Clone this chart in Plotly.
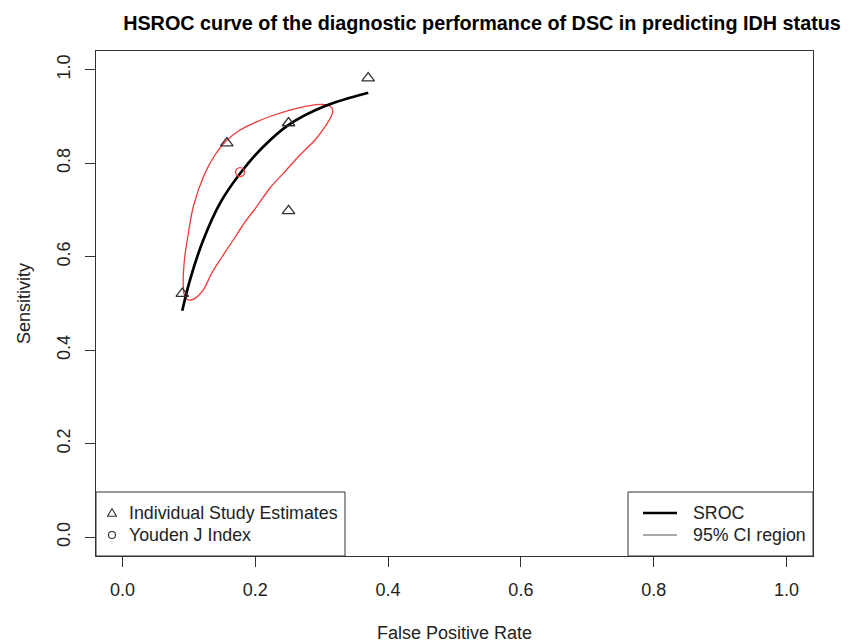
import plotly.graph_objects as go

# ---------------- data ----------------
study_fpr = [0.090, 0.157, 0.250, 0.250, 0.370]
study_sens = [0.521, 0.843, 0.886, 0.698, 0.982]

youden_fpr = [0.177]
youden_sens = [0.781]

sroc_fpr = [0.0899, 0.1015, 0.1216, 0.1467, 0.1779, 0.2119, 0.2496, 0.3023, 0.3701]
sroc_sens = [0.4846, 0.5502, 0.6358, 0.7143, 0.7797, 0.8353, 0.8817, 0.9209, 0.9508]

ci_fpr = [0.0990, 0.0932, 0.0914, 0.0917, 0.0940, 0.0975, 0.1065, 0.1241, 0.1392, 0.1573,
          0.1768, 0.1969, 0.2220, 0.2521, 0.2823, 0.3003, 0.3124, 0.3169, 0.3139, 0.3083,
          0.2898, 0.2672, 0.2421, 0.2220, 0.2020, 0.1844, 0.1667, 0.1497, 0.1342, 0.1216,
          0.1091, 0.0990]
ci_sens = [0.5075, 0.5182, 0.5396, 0.5652, 0.6037, 0.6358, 0.7070, 0.7784, 0.8176, 0.8497,
           0.8710, 0.8854, 0.8999, 0.9138, 0.9234, 0.9256, 0.9224, 0.9117, 0.8988, 0.8854,
           0.8497, 0.8176, 0.7784, 0.7470, 0.7070, 0.6743, 0.6358, 0.5994, 0.5646, 0.5289,
           0.5111, 0.5075]

tick_vals = [0.0, 0.2, 0.4, 0.6, 0.8, 1.0]
tick_text = ["0.0", "0.2", "0.4", "0.6", "0.8", "1.0"]

title_text = "HSROC curve of the diagnostic performance of DSC in predicting IDH status"
x_title = "False Positive Rate"
y_title = "Sensitivity"
legend_left = ["Individual Study Estimates", "Youden J Index"]
legend_right = ["SROC", "95% CI region"]

# ---------------- layout geometry (pixels) ----------------
W, H = 856, 643
L, R, T, B = 96, 43, 51, 87
PW, PH = W - L - R, H - T - B
FONT = "Liberation Sans, Arial, Helvetica, sans-serif"
INK = "#222222"


def pxx(x):
    return (x - L) / PW


def pxy(y):
    return (H - B - y) / PH


fig = go.Figure()

fig.add_trace(go.Scatter(
    x=ci_fpr, y=ci_sens, mode="lines",
    line=dict(color="#EE3A3A", width=1.3, shape="spline", smoothing=0.8),
    name=legend_right[1], showlegend=False, hoverinfo="skip"))

fig.add_trace(go.Scatter(
    x=sroc_fpr, y=sroc_sens, mode="lines",
    line=dict(color="black", width=2.7, shape="spline", smoothing=1.0),
    name=legend_right[0], showlegend=False))

fig.add_trace(go.Scatter(
    x=study_fpr, y=study_sens, mode="markers",
    marker=dict(symbol="triangle-up-open", size=11, color="#333333",
                line=dict(width=1.3, color="#333333")),
    name=legend_left[0], showlegend=False))

fig.add_trace(go.Scatter(
    x=youden_fpr, y=youden_sens, mode="markers",
    marker=dict(symbol="circle-open", size=9, color="#EE3A3A",
                line=dict(width=1.3, color="#EE3A3A")),
    name=legend_left[1], showlegend=False))

shapes = []
annotations = []

# left legend box
shapes.append(dict(type="rect", xref="paper", yref="paper",
                   x0=pxx(96), x1=pxx(345), y0=pxy(556), y1=pxy(492),
                   line=dict(color="#333333", width=1), fillcolor="white", layer="above"))
# right legend box
shapes.append(dict(type="rect", xref="paper", yref="paper",
                   x0=pxx(628), x1=pxx(813), y0=pxy(556), y1=pxy(492),
                   line=dict(color="#333333", width=1), fillcolor="white", layer="above"))

# legend keys (left): triangle and circle
shapes.append(dict(type="path", xref="paper", yref="paper",
                   xsizemode="pixel", ysizemode="pixel",
                   xanchor=pxx(112), yanchor=pxy(513),
                   path="M -4.5,-3.2 L 4.5,-3.2 L 0,4.3 Z",
                   line=dict(color="#333333", width=1.1), layer="above"))
shapes.append(dict(type="circle", xref="paper", yref="paper",
                   xsizemode="pixel", ysizemode="pixel",
                   xanchor=pxx(112), yanchor=pxy(535),
                   x0=-3.5, x1=3.5, y0=-3.5, y1=3.5,
                   line=dict(color="#333333", width=1.1), layer="above"))

# legend keys (right): lines
shapes.append(dict(type="line", xref="paper", yref="paper",
                   x0=pxx(643), x1=pxx(677), y0=pxy(513), y1=pxy(513),
                   line=dict(color="black", width=2.5), layer="above"))
shapes.append(dict(type="line", xref="paper", yref="paper",
                   x0=pxx(643), x1=pxx(677), y0=pxy(535), y1=pxy(535),
                   line=dict(color="#555555", width=1), layer="above"))

for lbl, yy in zip(legend_left, [513, 535]):
    annotations.append(dict(text=lbl, xref="paper", yref="paper", x=pxx(127), y=pxy(yy),
                            xanchor="left", yanchor="middle", showarrow=False,
                            font=dict(family=FONT, size=17.8, color=INK)))
for lbl, yy in zip(legend_right, [513, 535]):
    annotations.append(dict(text=lbl, xref="paper", yref="paper", x=pxx(691), y=pxy(yy),
                            xanchor="left", yanchor="middle", showarrow=False,
                            font=dict(family=FONT, size=17.8, color=INK)))

axis_common = dict(
    showgrid=False, zeroline=False, showline=True, mirror=True,
    linecolor="#333333", linewidth=1,
    ticks="outside", ticklen=10, tickwidth=1, tickcolor="#333333",
    tickvals=tick_vals, ticktext=tick_text,
    tickfont=dict(family=FONT, size=18, color=INK),
    automargin=False,
)

fig.update_layout(
    width=W, height=H,
    margin=dict(l=L, r=R, t=T, b=B, pad=0, autoexpand=False),
    paper_bgcolor="white", plot_bgcolor="white",
    showlegend=False,
    title=dict(text="<b>" + title_text + "</b>", x=482 / W, xref="container", xanchor="center",
               y=1 - 23 / H, yref="container", yanchor="middle",
               font=dict(family=FONT, size=19.8, color="black")),
    xaxis=dict(range=[-0.04, 1.04], ticklabelstandoff=7,
               title=dict(text=x_title, standoff=32, font=dict(family=FONT, size=18, color=INK)),
               **axis_common),
    yaxis=dict(range=[-0.04, 1.04], tickangle=-90, ticklabelstandoff=8,
               title=dict(text=y_title, standoff=18, font=dict(family=FONT, size=18, color=INK)),
               **axis_common),
    shapes=shapes,
    annotations=annotations,
)

fig.write_html("out.html")
